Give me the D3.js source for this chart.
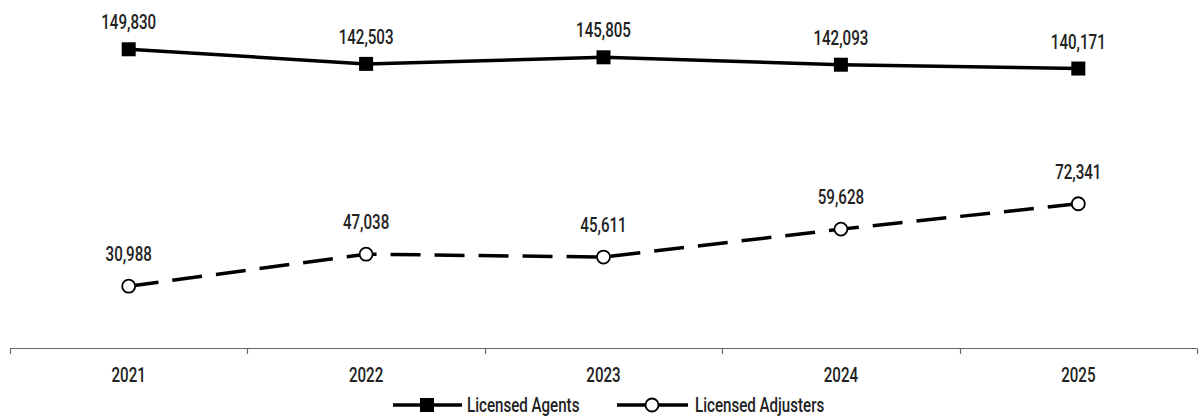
<!DOCTYPE html>
<html><head><meta charset="utf-8">
<script src="https://cdn.jsdelivr.net/npm/d3@7"></script>
<style>
html,body{margin:0;padding:0;background:#fff;}
text{font-family:Roboto,"DejaVu Sans",sans-serif;font-weight:500;fill:#222;}
</style></head>
<body><svg id="c" width="1199" height="418"></svg>
<script>
const years = ["2021","2022","2023","2024","2025"];
const agents = [149830,142503,145805,142093,140171];
const adjusters = [30988,47038,45611,59628,72341];
const seriesNames = ["Licensed Agents","Licensed Adjusters"];

const SX = 0.72, FS = "21px";
const svg = d3.select("#c");
const x = d3.scaleBand().domain(years).range([10,1197]).padding(0);
const y = d3.scaleLinear().domain([0,160000]).range([348,29]);
const fmt = d3.format(",");

function label(sel, tx, ty, anchor){
  sel.attr("x",0).attr("y",0).attr("text-anchor",anchor||"middle")
    .style("font-size",FS)
    .attr("transform",(d,i)=>`translate(${tx(d,i)},${ty(d,i)}) scale(${SX},1)`);
  return sel;
}

svg.append("line").attr("x1",10).attr("x2",1197).attr("y1",348.5).attr("y2",348.5)
  .attr("stroke","#666").attr("stroke-width",1.2);
const bounds = years.map(d=>x(d)).concat([x(years[years.length-1])+x.bandwidth()]);
svg.selectAll(".tk").data(bounds).enter().append("line")
  .attr("x1",d=>Math.round(d)+0.5).attr("x2",d=>Math.round(d)+0.5)
  .attr("y1",348.5).attr("y2",354).attr("stroke","#666").attr("stroke-width",1.2);

const cx = d=>x(d)+x.bandwidth()/2;
label(svg.selectAll(".yr").data(years).enter().append("text").text(d=>d), d=>cx(d), ()=>382);

const line = d3.line().x(d=>cx(d[0])).y(d=>y(d[1]));
const aData = years.map((d,i)=>[d,agents[i]]);
const jData = years.map((d,i)=>[d,adjusters[i]]);

svg.append("path").datum(aData).attr("d",line).attr("fill","none")
  .attr("stroke","#000").attr("stroke-width",3.5);
svg.append("path").datum(jData).attr("d",line).attr("fill","none")
  .attr("stroke","#000").attr("stroke-width",3.5).attr("stroke-dasharray","30,14");

svg.selectAll(".sq").data(aData).enter().append("rect")
  .attr("x",d=>cx(d[0])-7).attr("y",d=>y(d[1])-7).attr("width",14).attr("height",14)
  .attr("fill","#000");
svg.selectAll(".ci").data(jData).enter().append("circle")
  .attr("cx",d=>cx(d[0])).attr("cy",d=>y(d[1])).attr("r",6.5)
  .attr("fill","#fff").attr("stroke","#000").attr("stroke-width",1.8);

label(svg.selectAll(".la").data(aData).enter().append("text").text(d=>fmt(d[1])),
  d=>cx(d[0]), d=>y(d[1])-20);
label(svg.selectAll(".lj").data(jData).enter().append("text").text(d=>fmt(d[1])),
  d=>cx(d[0]), d=>y(d[1])-25);

// legend
const lg = svg.append("g");
lg.append("line").attr("x1",393).attr("x2",462).attr("y1",405).attr("y2",405).attr("stroke","#000").attr("stroke-width",3.5);
lg.append("rect").attr("x",420).attr("y",398).attr("width",14).attr("height",14).attr("fill","#000");
label(lg.append("text").datum(seriesNames[0]).text(d=>d), ()=>467, ()=>412, "start");
lg.append("line").attr("x1",617).attr("x2",688).attr("y1",405).attr("y2",405).attr("stroke","#000").attr("stroke-width",3.5);
lg.append("circle").attr("cx",652).attr("cy",405).attr("r",6.5).attr("fill","#fff").attr("stroke","#000").attr("stroke-width",1.8);
label(lg.append("text").datum(seriesNames[1]).text(d=>d), ()=>695, ()=>412, "start");
</script></body></html>
